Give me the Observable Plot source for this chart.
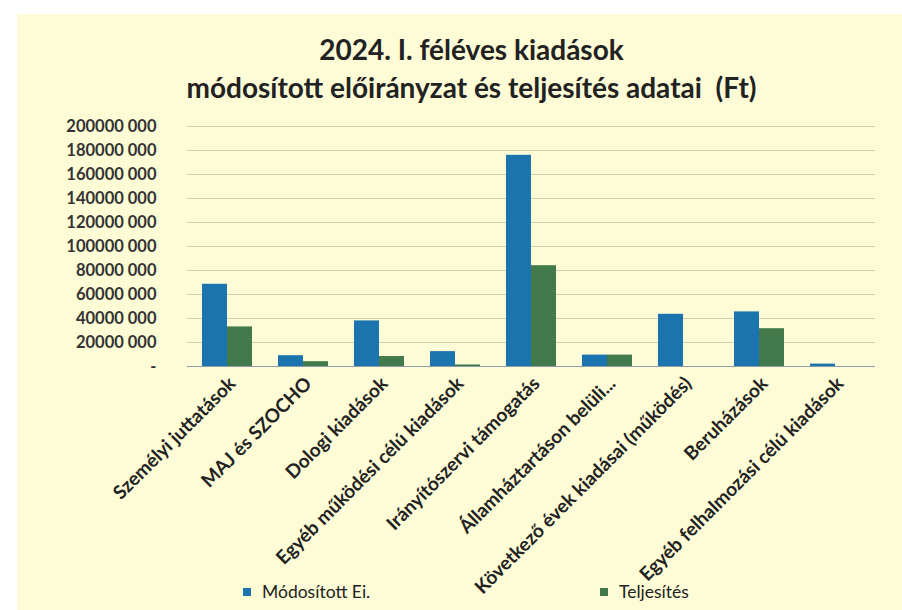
<!DOCTYPE html>
<html>
<head>
<meta charset="utf-8">
<script src="https://cdn.jsdelivr.net/npm/d3@7"></script>
<script src="https://cdn.jsdelivr.net/npm/@observablehq/plot@0.6"></script>
<style>
  html, body { margin: 0; padding: 0; background: #ffffff; width: 902px; height: 610px; overflow: hidden; }
  #panel { position: absolute; left: 17px; top: 14px; width: 885px; height: 596px; background: #fdfcd6; font-family: Lato, "Open Sans", sans-serif; }
  #title { position: absolute; left: 0; top: 16px; width: 885px; padding-left: 24px; box-sizing: border-box; text-align: center; font-weight: 700; font-size: 28px; line-height: 38px; color: #222; }
  #chart { position: absolute; left: 0; top: 94px; }
  .leg { position: absolute; top: 567px; font-size: 17.5px; color: #222; display: flex; align-items: center; }
  .sw { display: inline-block; width: 8px; height: 8px; margin-right: 11px; }
</style>
</head>
<body>
<div id="panel">
  <div id="title">2024. I. féléves kiadások<br>módosított előirányzat és teljesítés adatai&nbsp;&nbsp;(Ft)</div>
  <div id="chart"></div>
</div>
<script>
const categories = [
  "Személyi juttatások",
  "MAJ és SZOCHO",
  "Dologi kiadások",
  "Egyéb működési célú kiadások",
  "Irányítószervi támogatás",
  "Államháztartáson belüli...",
  "Következő évek kiadásai (működés)",
  "Beruházások",
  "Egyéb felhalmozási célú kiadások"
];
const seriesNames = ["Módosított Ei.", "Teljesítés"];
const modositott = [68.5e6, 9e6, 38e6, 12.4e6, 176e6, 9.5e6, 43.5e6, 45.5e6, 2e6];
const teljesites = [33e6, 4e6, 8.3e6, 1.3e6, 84e6, 9.5e6, 0, 31.5e6, 0];
const yTicks = [0, 20e6, 40e6, 60e6, 80e6, 100e6, 120e6, 140e6, 160e6, 180e6, 200e6];
const colors = ["#1b74ad", "#427a4b"];

const rows = categories.map((c, i) => ({cat: c, mod: modositott[i], telj: teljesites[i]}));

const fmt = d => d === 0 ? "-" : Math.floor(d / 1000) + " " + String(d % 1000).padStart(3, "0");

function build(half) {
  return Plot.plot({
    width: 885,
    height: 500,
    marginLeft: 170,
    marginRight: 27,
    marginTop: 18,
    marginBottom: 242,
    style: { background: "transparent", fontFamily: "Lato, 'Open Sans', sans-serif", color: "#333" },
    x: { domain: categories, paddingInner: 0.34, paddingOuter: 0.17, label: null },
    y: { domain: [0, 200e6], label: null },
    marks: [
      Plot.gridY(yTicks.filter(d => d > 0), { stroke: "#cfcdb4", strokeOpacity: 1, strokeWidth: 1 }),
      Plot.barY(rows, { x: "cat", y: "mod", fill: colors[0], insetRight: half }),
      Plot.barY(rows, { x: "cat", y: "telj", fill: colors[1], insetLeft: half }),
      Plot.ruleY([0], { stroke: "#8f9aa8", strokeWidth: 1.2 }),
      Plot.axisY({ ticks: yTicks, tickFormat: fmt, tickSize: 0, tickPadding: 31, fontSize: 16.5, fontWeight: "bold", fill: "#333", label: null }),
      Plot.axisX({ tickRotate: -45, tickSize: 0, tickPadding: 14, dx: 5, fontSize: 19, fontWeight: "bold", fill: "#222", label: null })
    ]
  });
}
const probe = build(0);
const half = probe.scale("x").bandwidth / 2;
const chart = build(half);
document.getElementById("chart").appendChild(chart);

const panel = document.getElementById("panel");
const legPos = [226, 583];
seriesNames.forEach((s, i) => {
  const d = document.createElement("div");
  d.className = "leg";
  d.style.left = legPos[i] + "px";
  const sw = document.createElement("span");
  sw.className = "sw";
  sw.style.background = colors[i];
  d.appendChild(sw);
  d.appendChild(document.createTextNode(s));
  panel.appendChild(d);
});
</script>
</body>
</html>
